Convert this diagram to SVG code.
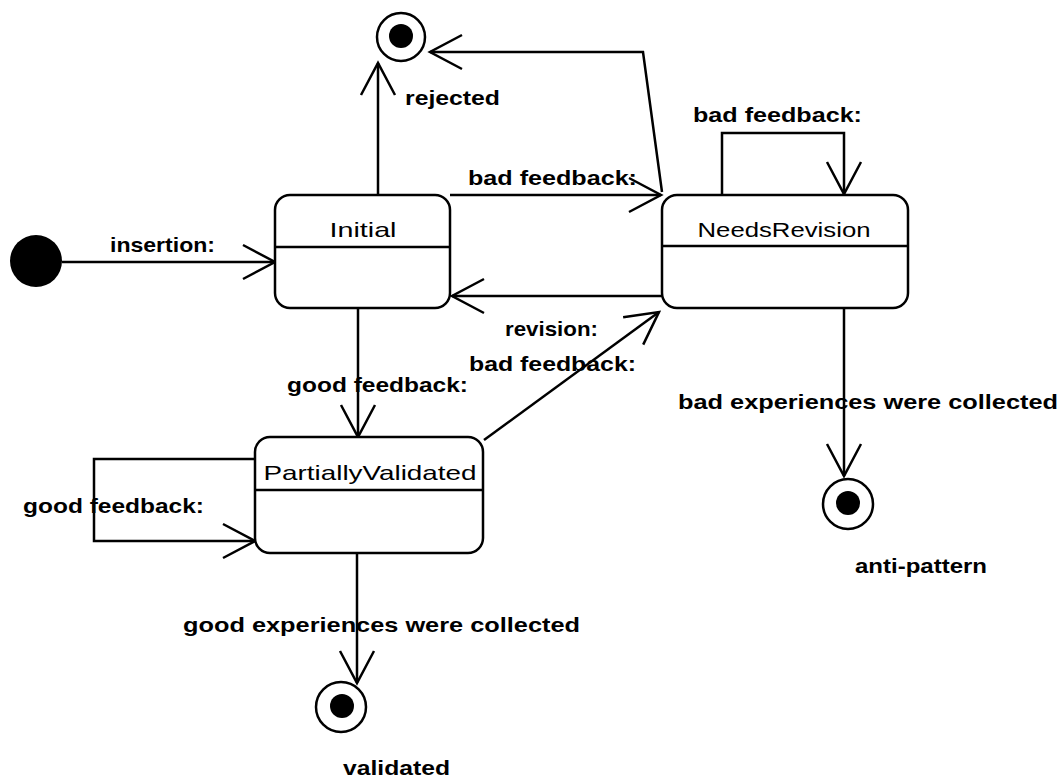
<svg xmlns="http://www.w3.org/2000/svg" width="1064" height="778" viewBox="0 0 1064 778">
  <style>
    .state { fill: #fff; stroke: #000; stroke-width: 2.5; }
    .div { stroke: #000; stroke-width: 2.5; }
    .name { font-family: "Liberation Sans", Arial, sans-serif; font-size: 21px; fill: #000; text-anchor: middle; }
    .lbl { font-family: "Liberation Sans", Arial, sans-serif; font-size: 21px; font-weight: bold; fill: #000; }
    .edge { fill: none; stroke: #000; stroke-width: 2.5; marker-end: url(#open); }
    .ring { fill: #fff; stroke: #000; stroke-width: 2.5; }
    .dot { fill: #000; }
  </style>
  <defs>
    <marker id="open" markerUnits="userSpaceOnUse" viewBox="-36 -20 40 40" refX="0" refY="0" markerWidth="40" markerHeight="40" orient="auto" overflow="visible">
      <path d="M -32 -17 L 0 0 L -32 17" fill="none" stroke="#000" stroke-width="2.5"/>
    </marker>
  </defs>
  <rect width="1064" height="778" fill="#fff"/>

  <!-- connectors -->
  <g id="connectors">
    <path class="edge" d="M 62 262 L 275 262"/>
    <path class="edge" d="M 378 195 L 378 63"/>
    <path class="edge" d="M 450 195 L 661 195"/>
    <path class="edge" d="M 662 192 L 643 52 L 430 52"/>
    <path class="edge" d="M 722 195 L 722 133 L 844 133 L 844 194"/>
    <path class="edge" d="M 662 296 L 452 296"/>
    <path class="edge" d="M 358 308 L 358 437"/>
    <path class="edge" d="M 484 440 L 659 312"/>
    <path class="edge" d="M 255 459 L 94 459 L 94 541 L 255 541"/>
    <path class="edge" d="M 844 308 L 844 476"/>
    <path class="edge" d="M 357 553 L 357 683"/>

    <text class="lbl" x="110" y="252" textLength="105" lengthAdjust="spacingAndGlyphs">insertion:</text>
    <text class="lbl" x="405" y="105" textLength="95" lengthAdjust="spacingAndGlyphs">rejected</text>
    <text class="lbl" x="468" y="185" textLength="169" lengthAdjust="spacingAndGlyphs">bad feedback:</text>
    <text class="lbl" x="693" y="122" textLength="169" lengthAdjust="spacingAndGlyphs">bad feedback:</text>
    <text class="lbl" x="505" y="336" textLength="93" lengthAdjust="spacingAndGlyphs">revision:</text>
    <text class="lbl" x="469" y="371" textLength="167" lengthAdjust="spacingAndGlyphs">bad feedback:</text>
    <text class="lbl" x="287" y="392" textLength="181" lengthAdjust="spacingAndGlyphs">good feedback:</text>
    <text class="lbl" x="23" y="513" textLength="181" lengthAdjust="spacingAndGlyphs">good feedback:</text>
    <text class="lbl" x="678" y="409" textLength="380" lengthAdjust="spacingAndGlyphs">bad experiences were collected</text>
    <text class="lbl" x="183" y="632" textLength="397" lengthAdjust="spacingAndGlyphs">good experiences were collected</text>
  </g>

  <!-- start pseudo-state -->
  <g id="start">
    <circle class="dot" cx="36" cy="261" r="26"/>
  </g>

  <!-- states -->
  <g id="initial">
    <rect class="state" x="275" y="195" width="175" height="113" rx="15" ry="15"/>
    <line class="div" x1="275" y1="247" x2="450" y2="247"/>
    <text class="name" x="363" y="237" textLength="67" lengthAdjust="spacingAndGlyphs">Initial</text>
  </g>
  <g id="needsRevision">
    <rect class="state" x="662" y="195" width="246" height="113" rx="15" ry="15"/>
    <line class="div" x1="662" y1="246" x2="908" y2="246"/>
    <text class="name" x="784" y="237" textLength="173" lengthAdjust="spacingAndGlyphs">NeedsRevision</text>
  </g>
  <g id="partiallyValidated">
    <rect class="state" x="255" y="437" width="228" height="116" rx="15" ry="15"/>
    <line class="div" x1="255" y1="490" x2="483" y2="490"/>
    <text class="name" x="370" y="480" textLength="213" lengthAdjust="spacingAndGlyphs">PartiallyValidated</text>
  </g>

  <!-- final states -->
  <g id="rejected">
    <circle class="ring" cx="401" cy="37" r="24"/>
    <circle class="dot" cx="401" cy="36" r="12"/>
  </g>
  <g id="antiPattern">
    <circle class="ring" cx="848" cy="504" r="25"/>
    <circle class="dot" cx="848" cy="503" r="12"/>
    <text class="lbl" x="855" y="573" textLength="132" lengthAdjust="spacingAndGlyphs">anti-pattern</text>
  </g>
  <g id="validated">
    <circle class="ring" cx="341" cy="707" r="25"/>
    <circle class="dot" cx="342" cy="706" r="12"/>
    <text class="lbl" x="343" y="775" textLength="107" lengthAdjust="spacingAndGlyphs">validated</text>
  </g>
</svg>
